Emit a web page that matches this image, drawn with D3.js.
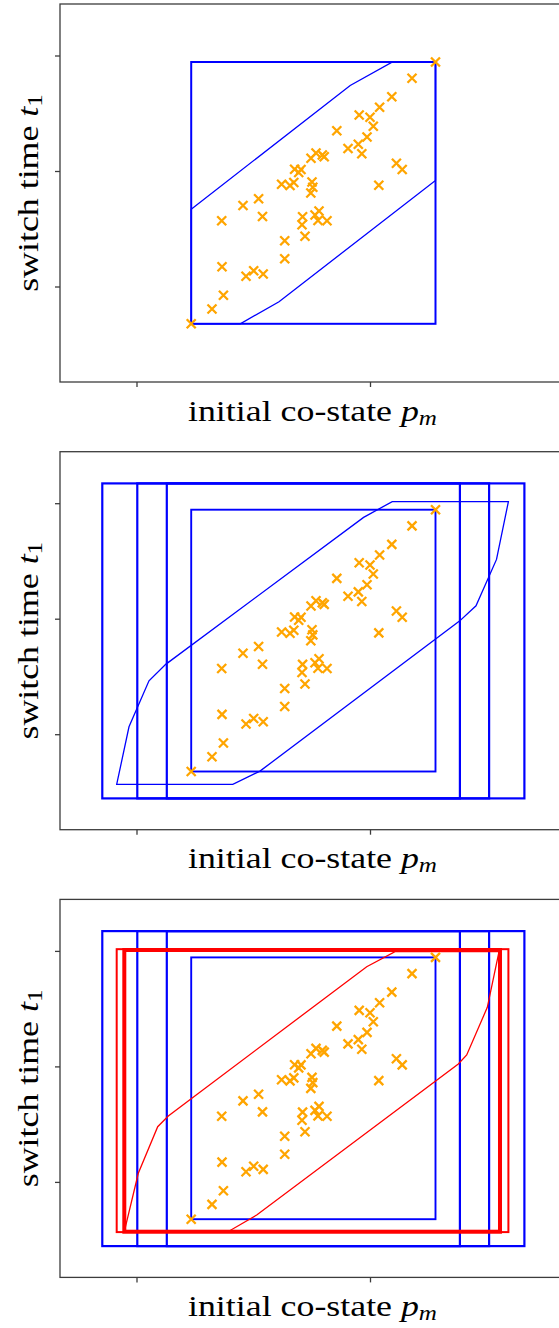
<!DOCTYPE html>
<html><head><meta charset="utf-8">
<script src="https://cdn.jsdelivr.net/npm/d3@7/dist/d3.min.js"></script>
<style>body{margin:0;background:#fff}svg{display:block}</style>
</head><body>
<svg id="c" width="559" height="1328"></svg>
<script>
// ---- data (tick values chosen as 0,1 / 0,1,2) ----
const xTicks = [0, 1];
const yTicks = [0, 1, 2];
const xLim = [-0.3276, 1.8351];
const yLim = [-0.8268, 2.4459];

// samples: initial co-state p_m vs switch time t_1
const pm = [0.2343,1.2805,1.1799,1.0934,1.0411,0.9537,1.0000,1.0141,0.8578,0.9872,
            0.9499,0.9058,0.9649,0.7687,0.7473,0.8039,0.7957,0.6771,0.7045,0.6946,
            1.1131,1.1379,0.6214,0.6574,0.6737,0.7516,0.7550,0.7465,1.0377,0.4561,
            0.5229,0.5396,0.3649,0.7113,0.7645,0.7816,0.7773,0.8158,0.7088,0.7216,
            0.6347,0.6347,0.3662,0.4690,0.5019,0.5426,0.3722,0.3233];
const t1 = [-0.3229,1.9437,1.8035,1.6433,1.5515,1.4848,1.4649,1.3870,1.3489,1.2944,
            1.2320,1.1948,1.1489,1.1558,1.1100,1.1238,1.1385,1.0147,1.0130,0.9870,
            1.0667,1.0130,0.8848,0.8745,0.9004,0.9048,0.8597,0.8095,0.8771,0.7013,
            0.7593,0.6061,0.5688,0.6043,0.6190,0.6537,0.5714,0.5688,0.5342,0.4346,
            0.3957,0.2398,0.1714,0.0883,0.1359,0.1082,-0.0762,-0.1948];

// sample box
const boxX = [0.2343, 1.2805];
const boxY = [-0.3229, 1.9437];

// first reachable-set polygon (panel 1)
const poly1X = [0.2343,0.9152,1.0964,1.2805,1.2805,0.6103,0.4445,0.2343];
const poly1Y = [0.6693,1.7403,1.9437,1.9437,0.9177,-0.1316,-0.3229,-0.3229];

// enlarged polygon (panel 2)
const poly2X = [-0.0848,-0.0321,0.0535,0.1263,0.9726,1.0951,1.5927,1.5418,1.4540,1.3833,0.5289,0.4124];
const poly2Y = [-0.4346,0.0641,0.4623,0.6069,1.8770,2.0139,2.0139,1.5134,1.1117,0.9792,-0.3195,-0.4346];

// nested outer boxes (panels 2,3)
const outerX0 = [-0.1465, 0.0034, 0.1298];
const outerX1 = [1.6612, 1.5101, 1.3850];
const outerY = [-0.5558, 2.1714];

// red boxes and polygon (panel 3)
const redThinX = [-0.0848, 1.5927];
const redThinY = [-0.4346, 2.0150];
const redThickX = [-0.0522, 1.5567];
const redThickY = [-0.4312, 2.0078];
const poly3X = [-0.0522,0.0077,0.0908,0.1362,0.9859,1.1071,1.5525,1.5024,1.4141,1.3782,0.5148,0.3919];
const poly3Y = [-0.4312,0.0745,0.4779,0.5706,1.8632,1.9931,1.9931,1.5117,1.0987,1.0208,-0.2866,-0.4312];

// ---- drawing ----
(function () {
const BLUE = '#0000ff', RED = '#ff0000', ORANGE = '#ffa500', SPINE = '#3c3c3c';
const L = 60, R = 565, T = 4, B = 382, step = 447.7;
const x = d3.scaleLinear().domain(xLim).range([L, R]);
const y = d3.scaleLinear().domain(yLim).range([B, T]);
const svg = d3.select('#c');
const FONT = "'Liberation Serif','DejaVu Serif',serif";

const pts = pm.map((v, i) => [v, t1[i]]);
const line = d3.line().x(d => x(d[0])).y(d => y(d[1]));
const zip = (a, b) => a.map((v, i) => [v, b[i]]);

function rect(g, xs, ys, color, w) {
  g.append('rect')
    .attr('x', x(xs[0])).attr('y', y(ys[1]))
    .attr('width', x(xs[1]) - x(xs[0])).attr('height', y(ys[0]) - y(ys[1]))
    .attr('fill', 'none').attr('stroke', color).attr('stroke-width', w);
}
function poly(g, xs, ys, color, w) {
  g.append('path').attr('d', line(zip(xs, ys)) + 'Z')
    .attr('fill', 'none').attr('stroke', color).attr('stroke-width', w)
    .attr('stroke-linejoin', 'miter');
}

svg.append('defs').append('clipPath').attr('id', 'clip')
  .append('rect').attr('x', L).attr('y', T).attr('width', R - L).attr('height', B - T);

for (let p = 0; p < 3; p++) {
  const g = svg.append('g').attr('transform', `translate(0,${p * step})`);
  const c = g.append('g').attr('clip-path', 'url(#clip)');

  if (p >= 1) {
    for (let k = 0; k < outerX0.length; k++) rect(c, [outerX0[k], outerX1[k]], outerY, BLUE, 2.2);
  }
  rect(c, boxX, boxY, BLUE, p === 0 ? 2 : 1.9);
  if (p === 0) poly(c, poly1X, poly1Y, BLUE, 1.3);
  if (p === 1) poly(c, poly2X, poly2Y, BLUE, 1.3);
  if (p === 2) {
    rect(c, redThinX, redThinY, RED, 2);
    rect(c, redThickX, redThickY, RED, 4);
    poly(c, poly3X, poly3Y, RED, 1.3);
  }

  // markers
  const s = 4.5;
  c.append('g').selectAll('path').data(pts).join('path')
    .attr('d', d => `M${x(d[0]) - s},${y(d[1]) - s}L${x(d[0]) + s},${y(d[1]) + s}M${x(d[0]) - s},${y(d[1]) + s}L${x(d[0]) + s},${y(d[1]) - s}`)
    .attr('stroke', ORANGE).attr('stroke-width', 2.3).attr('fill', 'none');

  // spines
  g.append('rect').attr('x', L).attr('y', T).attr('width', R - L).attr('height', B - T)
    .attr('fill', 'none').attr('stroke', SPINE).attr('stroke-width', 1.3);

  // ticks
  const ax = g.append('g').attr('transform', `translate(0,${B})`)
    .call(d3.axisBottom(x).tickValues(xTicks).tickSize(5).tickSizeOuter(0).tickFormat(''));
  const ay = g.append('g').attr('transform', `translate(${L},0)`)
    .call(d3.axisLeft(y).tickValues(yTicks).tickSize(5).tickSizeOuter(0).tickFormat(''));
  [ax, ay].forEach(a => {
    a.select('.domain').remove();
    a.selectAll('line').attr('stroke', SPINE).attr('stroke-width', 1.3);
  });

  // x label
  const xl = g.append('text').attr('x', (L + R) / 2).attr('y', B + 38.5)
    .attr('text-anchor', 'middle').style('font-family', FONT).style('font-size', '30px').attr('fill', '#000');
  xl.append('tspan').text('initial co-state ');
  xl.append('tspan').style('font-style', 'italic').text('p');
  xl.append('tspan').style('font-style', 'italic').style('font-size', '21px').attr('dy', 4).text('m');
  const wx = xl.node().getComputedTextLength();
  const k = 249 / wx;
  xl.attr('textLength', 249).attr('lengthAdjust', 'spacingAndGlyphs');

  // y label
  const cy = (T + B) / 2;
  const yl = g.append('text').attr('transform', `translate(37.5,${cy}) rotate(-90)`)
    .attr('text-anchor', 'middle').style('font-family', FONT).style('font-size', '30px').attr('fill', '#000');
  yl.append('tspan').text('switch time ');
  yl.append('tspan').style('font-style', 'italic').text('t');
  yl.append('tspan').style('font-size', '21px').attr('dy', 4).text('1');
  const wy = yl.node().getComputedTextLength();
  yl.attr('textLength', wy * k).attr('lengthAdjust', 'spacingAndGlyphs');
}
})();
</script>
</body></html>
